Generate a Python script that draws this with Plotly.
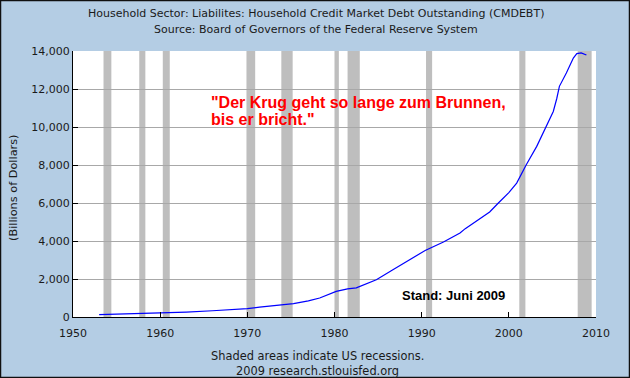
import plotly.graph_objects as go

years = [1953.0, 1955.0, 1957.0, 1960.0, 1963.0, 1966.0, 1968.0, 1970.0, 1971.4, 1973.0,
         1975.3, 1977.0, 1978.3, 1980.2, 1981.5, 1982.5, 1983.5, 1984.8, 1986.7, 1988.6,
         1990.4, 1992.5, 1994.4, 1995.0, 1997.8, 1998.8, 2000.0, 2000.9, 2002.0, 2003.2,
         2004.3, 2005.1, 2005.5, 2005.8, 2006.6, 2007.4, 2007.8, 2008.3, 2008.9]
debt = [120, 150, 170, 200, 260, 330, 380, 440, 520, 610,
        700, 850, 1000, 1350, 1480, 1530, 1700, 1960, 2490, 3015,
        3500, 3950, 4420, 4650, 5525, 6000, 6550, 7050, 8015, 8980,
        10030, 10820, 11500, 12140, 12840, 13630, 13860, 13900, 13790]

rec_start = [1953.5, 1957.6, 1960.3, 1969.9, 1973.9, 1980.0, 1981.5, 1990.5, 2001.2, 2007.9]
rec_end = [1954.4, 1958.3, 1961.1, 1970.9, 1975.2, 1980.5, 1982.9, 1991.2, 2001.9, 2009.5]

x_ticks = [1950, 1960, 1970, 1980, 1990, 2000, 2010]
y_ticks = [0, 2000, 4000, 6000, 8000, 10000, 12000, 14000]

title_lines = ["Household Sector: Liabilites: Household Credit Market Debt Outstanding (CMDEBT)",
               "Source: Board of Governors of the Federal Reserve System"]
footer_lines = ["Shaded areas indicate US recessions.", "2009 research.stlouisfed.org"]
quote_lines = ['"Der Krug geht so lange zum Brunnen,', 'bis er bricht."']
stand_text = "Stand: Juni 2009"

BG = "#B4CDE4"
W, H = 630, 378
L, R, T, B = 73, 34, 51, 61
PW, PH = W - L - R, H - T - B

def px_x(p):
    return (p - L) / PW

def px_y(p):
    return (H - B - p) / PH

fig = go.Figure()

shapes = []
for s, e in zip(rec_start, rec_end):
    shapes.append(dict(type="rect", xref="x", yref="paper", x0=s, x1=e, y0=0, y1=1,
                       fillcolor="#BEBEBE", line_width=0, layer="below"))
shapes.append(dict(type="rect", xref="paper", yref="paper",
                   x0=px_x(0.5), x1=px_x(629.5), y0=px_y(377.5), y1=px_y(0.5),
                   line=dict(color="#101010", width=1.5), fillcolor="rgba(0,0,0,0)"))

fig.add_trace(go.Scatter(x=years, y=debt, mode="lines",
                         line=dict(color="#0000FF", width=1.2), showlegend=False,
                         hoverinfo="skip"))

font_main = "DejaVu Sans, Verdana, sans-serif"
ann = []
for i, t in enumerate(title_lines):
    ann.append(dict(text=t, xref="paper", yref="paper", x=px_x(316), y=px_y(14 + 16 * i),
                    showarrow=False, xanchor="center", yanchor="middle",
                    font=dict(family=font_main, size=11, color="#1a1a1a")))
for i, t in enumerate(footer_lines):
    ann.append(dict(text=t, xref="paper", yref="paper", x=px_x(317), y=px_y(356 + 15 * i),
                    showarrow=False, xanchor="center", yanchor="middle",
                    font=dict(family=font_main, size=11.4, color="#1a1a1a")))
for i, t in enumerate(quote_lines):
    ann.append(dict(text="<b>" + t + "</b>", xref="paper", yref="paper", x=px_x(209),
                    y=px_y(102 + 17.6 * i), showarrow=False, xanchor="left", yanchor="middle",
                    font=dict(family="Liberation Sans, Arial, sans-serif", size=16, color="#FF0000")))
ann.append(dict(text="<b>" + stand_text + "</b>", xref="paper", yref="paper", x=px_x(400),
                y=px_y(295), showarrow=False, xanchor="left", yanchor="middle",
                font=dict(family="Liberation Sans Narrow, Arial Narrow, Liberation Sans, sans-serif",
                          size=13, color="#000000")))
ann.append(dict(text="(Billions of Dollars)", xref="paper", yref="paper", x=px_x(13),
                y=px_y(188), showarrow=False, textangle=-90, xanchor="center", yanchor="middle",
                font=dict(family=font_main, size=11.3, color="#1a1a1a")))

fig.update_layout(
    width=W, height=H,
    margin=dict(l=L, r=R, t=T, b=B),
    paper_bgcolor=BG, plot_bgcolor="#FFFFFF",
    shapes=shapes, annotations=ann,
    xaxis=dict(range=[1950, 2010], tickvals=x_ticks, ticktext=[str(v) for v in x_ticks],
               showgrid=False, zeroline=False, showline=True, linecolor="#000000", linewidth=1,
               ticks="inside", ticklen=5, tickcolor="#000000", ticklabelstandoff=6,
               tickfont=dict(family=font_main, size=11, color="#1a1a1a")),
    yaxis=dict(range=[0, 14000], tickvals=y_ticks, ticktext=[f"{v:,}" for v in y_ticks],
               showgrid=True, gridcolor="#A8A8A8", gridwidth=1, zeroline=False,
               showline=True, linecolor="#000000", linewidth=1,
               ticks="inside", ticklen=5, tickcolor="#000000",
               tickfont=dict(family=font_main, size=11, color="#1a1a1a")),
)

fig.write_html("out.html", config={"displayModeBar": False},
               post_script="document.body.style.margin='0';document.body.style.padding='0';")
